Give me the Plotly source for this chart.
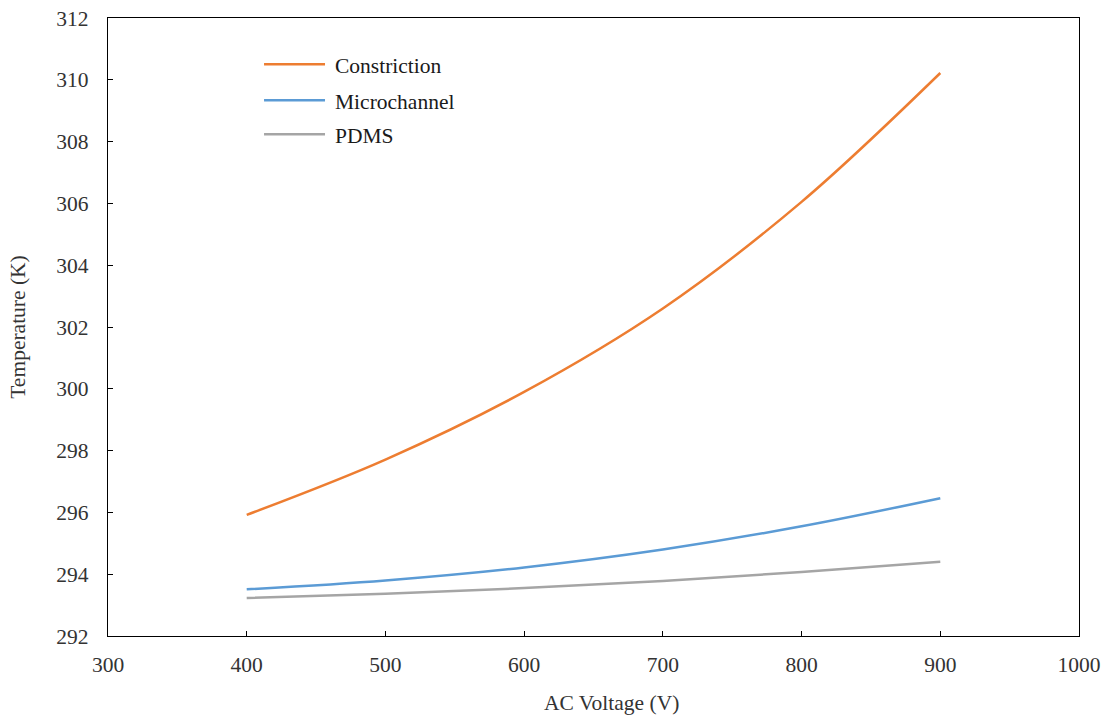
import plotly.graph_objects as go

voltage = [400, 500, 600, 700, 800, 900]
constriction = [295.92, 297.71, 299.90, 302.60, 306.05, 310.22]
microchannel = [293.51, 293.80, 294.22, 294.80, 295.55, 296.46]
pdms = [293.23, 293.37, 293.55, 293.78, 294.07, 294.40]

series_names = ["Constriction", "Microchannel", "PDMS"]
series_colors = ["#ED7D31", "#5B9BD5", "#A5A5A5"]
series_values = [constriction, microchannel, pdms]

x_ticks = [300, 400, 500, 600, 700, 800, 900, 1000]
y_ticks = [292, 294, 296, 298, 300, 302, 304, 306, 308, 310, 312]

FONT = "Liberation Serif"
FS = 21.5

fig = go.Figure()
for name, color, vals in zip(series_names, series_colors, series_values):
    fig.add_trace(go.Scatter(
        x=voltage, y=vals, mode="lines", name=name,
        line=dict(color=color, width=2.5, shape="spline", smoothing=1.0),
        showlegend=False,
    ))

# manual legend (line samples + labels) in paper coordinates
leg_x0, leg_x1, text_x = 0.1607, 0.2235, 0.2317
leg_y = [0.925, 0.867, 0.812]
for name, color, ly in zip(series_names, series_colors, leg_y):
    fig.add_shape(type="line", xref="paper", yref="paper",
                  x0=leg_x0, x1=leg_x1, y0=ly, y1=ly,
                  line=dict(color=color, width=2.5))
    fig.add_annotation(xref="paper", yref="paper", x=text_x, y=ly - 0.003,
                       text=name, showarrow=False, xanchor="left",
                       yanchor="middle",
                       font=dict(family=FONT, size=FS, color="#1a1a1a"))

# x-axis title placed as annotation (slightly right of centre, as in reference)
fig.add_annotation(xref="paper", yref="paper", x=0.519, y=-0.108,
                   text="AC Voltage (V)", showarrow=False,
                   xanchor="center", yanchor="middle",
                   font=dict(family=FONT, size=FS, color="#333333"))

axis_common = dict(
    showline=True, linecolor="black", linewidth=1.3, mirror=True,
    ticks="inside", ticklen=5, tickwidth=1.3, tickcolor="black",
    showgrid=False, zeroline=False,
    tickfont=dict(family=FONT, size=FS, color="#333333"),
)

fig.update_layout(
    width=1105, height=717,
    margin=dict(l=108, r=26, t=18, b=81, autoexpand=False),
    paper_bgcolor="white", plot_bgcolor="white",
    xaxis=dict(range=[300, 1000], tickvals=x_ticks, ticklabelstandoff=9,
               **axis_common),
    yaxis=dict(range=[292, 312], tickvals=y_ticks, ticklabelstandoff=14,
               title=dict(text="Temperature (K)", standoff=24,
                          font=dict(family=FONT, size=FS, color="#333333")),
               **axis_common),
)

fig.write_html("out.html")
